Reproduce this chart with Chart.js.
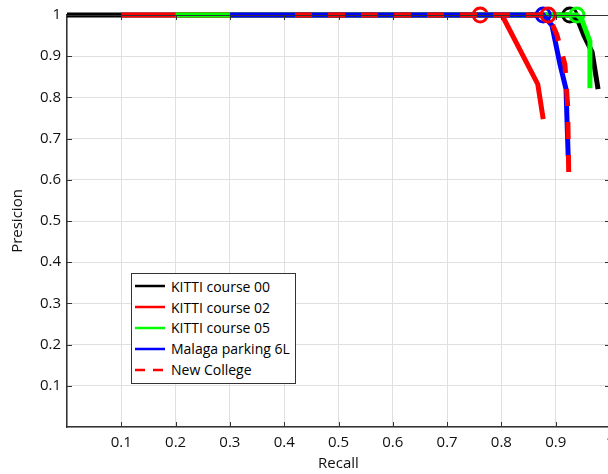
<!DOCTYPE html>
<html>
<head>
<meta charset="utf-8">
<script src="https://cdn.jsdelivr.net/npm/chart.js@4/dist/chart.umd.min.js"></script>
<style>
    html, body { margin: 0; padding: 0; background: #fff; overflow: hidden; }
    #wrap { position: relative; width: 608px; height: 474px; overflow: hidden; }
    #prChart { position: absolute; left: 0; top: 0; }
    .legend {
        position: absolute; left: 131px; top: 273px;
        background: #fff; border: 1px solid #333;
        padding: 2px 5px 3px 3px;
        font-family: "Open Sans", sans-serif; font-size: 14px; color: #000;
    }
    .legend-row { display: flex; align-items: center; height: 20.8px; white-space: nowrap; }
    .legend-row svg { margin-right: 6px; }
</style>
</head>
<body>
<div id="wrap">
    <canvas id="prChart" width="640" height="474"></canvas>
    <div class="legend" id="legend"></div>
</div>
<script>
// Data (recall, precision)
const kitti00Recall = [0, 0.926, 0.94, 0.952, 0.967, 0.978];
const kitti00Precision = [1, 1, 0.99, 0.95, 0.91, 0.82];

const kitti02Recall = [0.1, 0.761, 0.801, 0.867, 0.877];
const kitti02Precision = [1, 1, 1, 0.832, 0.747];

const kitti05Recall = [0.2, 0.939, 0.948, 0.963, 0.963];
const kitti05Precision = [1, 1, 0.989, 0.936, 0.822];

const malagaRecall = [0.3, 0.877, 0.893, 0.908, 0.919, 0.923];
const malagaPrecision = [1, 1, 0.975, 0.88, 0.82, 0.657];

const newCollegeRecall = [0.42, 0.886, 0.902, 0.917, 0.922, 0.924];
const newCollegePrecision = [1, 1, 0.953, 0.88, 0.78, 0.614];

// recall where each curve is circled (precision 1)
const markerRecall = [0.926, 0.761, 0.939, 0.877, 0.886];

const seriesNames = ['KITTI course 00', 'KITTI course 02', 'KITTI course 05', 'Malaga parking 6L', 'New College'];
const seriesColors = ['#000000', '#ff0000', '#00ff00', '#0000ff', '#ff0000'];
const tickValues = [0.1, 0.2, 0.3, 0.4, 0.5, 0.6, 0.7, 0.8, 0.9, 1];

const recalls = [kitti00Recall, kitti02Recall, kitti05Recall, malagaRecall, newCollegeRecall];
const precisions = [kitti00Precision, kitti02Precision, kitti05Precision, malagaPrecision, newCollegePrecision];

const FONT = '"Open Sans", sans-serif';

const datasets = seriesNames.map((name, i) => {
    const pts = recalls[i].map((r, j) => ({ x: r, y: precisions[i][j] }));
    return {
        label: name,
        data: pts,
        borderColor: seriesColors[i],
        backgroundColor: seriesColors[i],
        borderWidth: 5,
        borderDash: i === 4 ? [17, 16] : [],
        pointRadius: pts.map(p => p.x === markerRecall[i] ? 7 : 0),
        pointBorderWidth: 3,
        pointBorderColor: seriesColors[i],
        pointBackgroundColor: 'rgba(0,0,0,0)',
        showLine: true,
        tension: 0,
        clip: 10,
        order: 5 - i
    };
});

// MATLAB style box with inward ticks
const boxPlugin = {
    id: 'boxTicks',
    afterDraw(chart) {
        const { ctx, chartArea: a, scales } = chart;
        ctx.save();
        ctx.strokeStyle = '#333';
        ctx.lineWidth = 1;
        ctx.beginPath();
        ctx.moveTo(a.left, a.top + 0.5);
        ctx.lineTo(a.right, a.top + 0.5);
        ctx.moveTo(a.right - 0.5, a.top);
        ctx.lineTo(a.right - 0.5, a.bottom);
        tickValues.forEach(v => {
            const x = Math.round(scales.x.getPixelForValue(v)) + 0.5;
            ctx.moveTo(x, a.bottom);
            ctx.lineTo(x, a.bottom - 5);
            ctx.moveTo(x, a.top);
            ctx.lineTo(x, a.top + 5);
            const y = Math.round(scales.y.getPixelForValue(v)) + 0.5;
            ctx.moveTo(a.left, y);
            ctx.lineTo(a.left + 5, y);
            ctx.moveTo(a.right, y);
            ctx.lineTo(a.right - 5, y);
        });
        ctx.stroke();
        ctx.restore();
    }
};

new Chart(document.getElementById('prChart'), {
    type: 'scatter',
    data: { datasets: datasets },
    options: {
        responsive: false,
        animation: false,
        layout: { padding: { top: 13, right: 30, left: 0, bottom: 0 } },
        plugins: {
            legend: { display: false },
            tooltip: { enabled: false }
        },
        scales: {
            x: {
                type: 'linear',
                min: 0,
                max: 1,
                afterFit: (s) => { s.height = 47; },
                grid: { color: '#e0e0e0', drawTicks: false },
                border: { color: '#333', width: 1.5 },
                ticks: {
                    stepSize: 0.1,
                    padding: 7,
                    color: '#111',
                    font: { family: FONT, size: 15 },
                    callback: (v) => v === 0 ? '' : String(Math.round(v * 10) / 10)
                },
                title: {
                    display: true,
                    text: 'Recall',
                    color: '#111',
                    font: { family: FONT, size: 15 },
                    padding: { top: 0, bottom: 1 }
                }
            },
            y: {
                type: 'linear',
                min: 0,
                max: 1,
                afterFit: (s) => { s.width = 67; },
                grid: { color: '#e0e0e0', drawTicks: false },
                border: { color: '#333', width: 1.5 },
                ticks: {
                    stepSize: 0.1,
                    padding: 6,
                    color: '#111',
                    font: { family: FONT, size: 15 },
                    callback: (v) => v === 0 ? '' : String(Math.round(v * 10) / 10)
                },
                title: {
                    display: true,
                    text: 'Presicion',
                    color: '#111',
                    font: { family: FONT, size: 15 },
                    padding: { top: 9, bottom: 0 }
                }
            }
        }
    },
    plugins: [boxPlugin]
});

// Legend box inside the plot
const legendEl = document.getElementById('legend');
legendEl.innerHTML = seriesNames.map((name, i) => `
    <div class="legend-row">
        <svg width="30" height="4"><line x1="0" y1="2" x2="30" y2="2" stroke="${seriesColors[i]}" stroke-width="2.5"${i === 4 ? ' stroke-dasharray="10 8"' : ''}></line></svg>
        <span>${name}</span>
    </div>`).join('');
</script>
</body>
</html>
